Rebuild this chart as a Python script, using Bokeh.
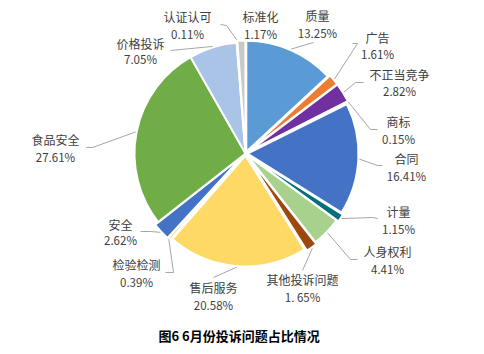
import math
from bokeh.plotting import figure
from bokeh.models import Range1d, ColumnDataSource
from bokeh.embed import file_html
from bokeh.resources import INLINE
from bokeh.core.properties import value

# ---------------- data ----------------
categories = ["质量", "广告", "不正当竞争", "商标", "合同", "计量", "人身权利",
              "其他投诉问题", "售后服务", "检验检测", "安全", "食品安全",
              "价格投诉", "认证认可", "标准化"]
percents = [13.25, 1.61, 2.82, 0.15, 16.41, 1.15, 4.41, 1.65, 20.58, 0.39,
            2.62, 27.61, 7.05, 0.11, 1.17]
pct_labels = ["13.25%", "1.61%", "2.82%", "0.15%", "16.41%", "1.15%", "4.41%",
              "1. 65%", "20.58%", "0.39%", "2.62%", "27.61%", "7.05%", "0.11%", "1.17%"]
title_text = "图6  6月份投诉问题占比情况"

# ---------------- style / layout ----------------
colors = ["#5B9BD5", "#ED7D31", "#7030A0", "#264478", "#4472C4", "#00707A",
          "#A9D18E", "#9E480E", "#FFD966", "#FFC000", "#4472C4", "#70AD47",
          "#A9C4E6", "#D9D9D9", "#C9C9C9"]
explode = [2, 4, 4, 3, 2, 4, 2, 4, 2, 3, 4, 0, 0, 2, 2]
W, H = 484, 354
CX, CY_PX, R = 245, 153, 111
# label anchor (name center x, name center y px, value center y px)
label_pos = [(317, 15, 32), (377, 37, 53), (399, 74, 90), (398, 121, 138),
             (406, 158, 175), (398, 211, 228), (387, 251, 268), (302, 279, 296),
             (213, 287, 304), (136, 264, 281), (120, 224, 239), (55, 139, 156),
             (140, 43, 58), (187, 16, 33), (260, 16, 33)]
# leader line tail points (px) after the slice edge point
leader_tail = [[(313, 42)], [(357, 43), (352, 43)], [(355, 82), (363, 82)],
               [(370, 129), (377, 129)], [(377, 165), (382, 165)],
               [(372, 217), (377, 218)], [(350, 259), (357, 259)],
               [(302, 270)], [(213, 277)], [(173, 272), (165, 272)],
               [(150, 231), (140, 231)], [(92, 147), (86, 147)],
               [(170, 50)], [(226, 25), (220, 24)], []]

FONT = "Noto Sans CJK SC"

def Y(py):
    return H - py

p = figure(width=W, height=H, output_backend="svg", toolbar_location=None,
           x_range=Range1d(0, W), y_range=Range1d(0, H), min_border=0,
           outline_line_color=None)
p.axis.visible = False
p.grid.visible = False
p.background_fill_color = "white"

total = sum(percents)
cum = 0.0
xs, ys, starts, ends, mids = [], [], [], [], []
for v, e in zip(percents, explode):
    a0 = cum / total * 2 * math.pi
    cum += v
    a1 = cum / total * 2 * math.pi
    mid = (a0 + a1) / 2
    mids.append(mid)
    xs.append(CX + e * math.sin(mid))
    ys.append(Y(CY_PX) + e * math.cos(mid))
    starts.append(math.pi / 2 - a0)
    ends.append(math.pi / 2 - a1)

src = ColumnDataSource(dict(x=xs, y=ys, start=starts, end=ends, color=colors,
                            cat=categories, pct=percents))
p.wedge(x="x", y="y", radius=R, start_angle="start", end_angle="end",
        direction="clock", fill_color="color", line_color="white",
        line_width=2, source=src)

# leader lines
for i, tail in enumerate(leader_tail):
    if not tail:
        continue
    sx = xs[i] + (R + 1) * math.sin(mids[i])
    sy = ys[i] + (R + 1) * math.cos(mids[i])
    lx = [sx] + [t[0] for t in tail]
    ly = [sy] + [Y(t[1]) for t in tail]
    p.line(lx, ly, line_color="#A6A6A6", line_width=1)

# labels
p.text(x=[lp[0] for lp in label_pos], y=[Y(lp[1]) for lp in label_pos],
       text=categories, text_align="center", text_baseline="middle",
       text_font=value(FONT), text_font_size="12px", text_color="#404040")
p.text(x=[lp[0] for lp in label_pos], y=[Y(lp[2]) for lp in label_pos],
       text=pct_labels, text_align="center", text_baseline="middle",
       text_font=value(FONT), text_font_size="11.5px", text_color="#404040")

# caption
p.text(x=[240], y=[Y(335)], text=[title_text], text_align="center",
       text_baseline="middle", text_font=value(FONT), text_font_size="13px",
       text_font_style="bold", text_color="#000000")

open("out.html", "w").write(file_html(p, INLINE))
